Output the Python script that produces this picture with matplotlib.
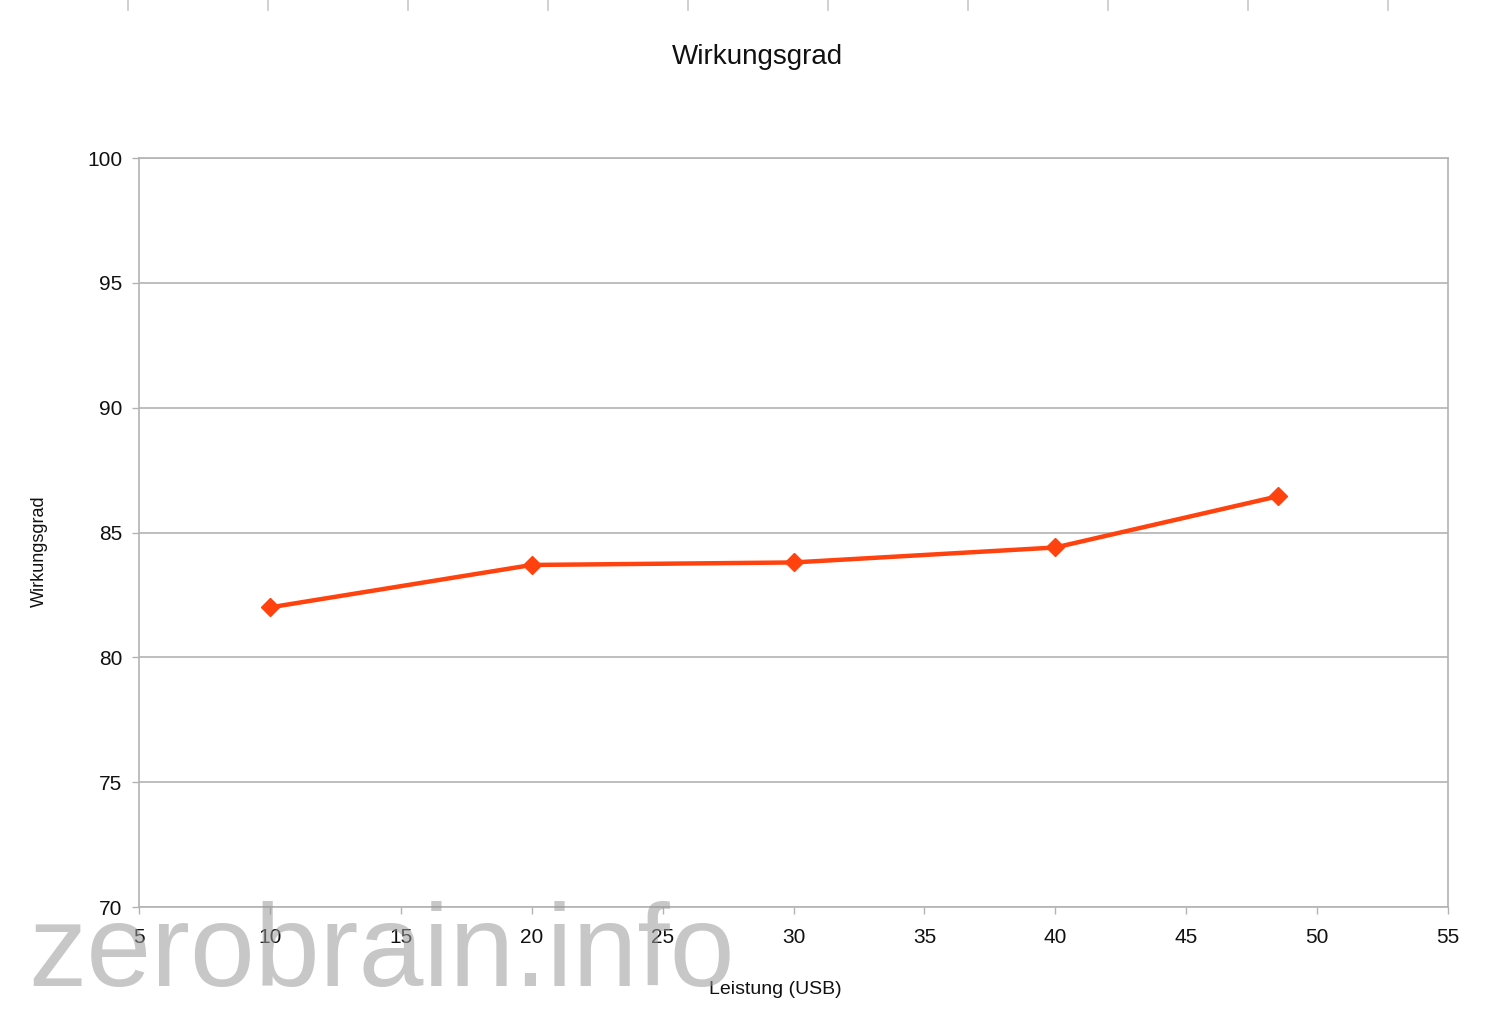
import numpy as np
import matplotlib
matplotlib.use("Agg")
import matplotlib.pyplot as plt
from matplotlib.lines import Line2D

# Messwerte
leistung = [10, 20, 30, 40, 48.5]
wirkungsgrad = [82.0, 83.7, 83.8, 84.4, 86.45]

x_ticks = list(range(5, 60, 5))
y_ticks = list(range(70, 105, 5))

TITLE = "Wirkungsgrad"
X_LABEL = "Leistung (USB)"
Y_LABEL = "Wirkungsgrad"
WATERMARK = "zerobrain.info"

LINE_COLOR = "#ff420e"
GRID_COLOR = "#b3b3b3"

plt.rcParams["font.family"] = ["Liberation Sans", "DejaVu Sans"]

fig = plt.figure(figsize=(15, 10.17), dpi=100)
ax = fig.add_axes([139 / 1500, 1 - 907 / 1017, (1448 - 139) / 1500, (907 - 158) / 1017])

ax.plot(leistung, wirkungsgrad, color=LINE_COLOR, linewidth=3.2,
        marker="D", markersize=9.5, markeredgecolor=LINE_COLOR, zorder=3,
        solid_joinstyle="round")

ax.set_xlim(5, 55)
ax.set_ylim(70, 100)
ax.set_xticks(x_ticks)
ax.set_yticks(y_ticks)
ax.tick_params(axis="both", direction="out", length=5, width=1,
               color=GRID_COLOR, labelsize=15, labelcolor="#111111")
ax.tick_params(axis="x", pad=10)
ax.tick_params(axis="y", pad=7)
ax.yaxis.grid(True, color=GRID_COLOR, linewidth=1.2)
ax.set_axisbelow(True)
for side in ax.spines.values():
    side.set_color(GRID_COLOR)
    side.set_linewidth(1.2)

ax.set_xlabel(X_LABEL, fontsize=14, color="#111111")
ax.xaxis.set_label_coords((775 - 139) / 1309, -(981 - 907) / 749)
ax.set_ylabel(Y_LABEL, fontsize=13, color="#111111")
ax.yaxis.set_label_coords(-(139 - 48) / 1309, (907 - 551) / 749)

fig.text(757 / 1500, 1 - 57 / 1017, TITLE, fontsize=20, ha="center", va="center",
         color="#111111")

# Reste einer darüberliegenden Grafik am oberen Rand
for xp in np.arange(128, 1500, 140):
    fig.add_artist(Line2D([xp / 1500, xp / 1500], [1.0, 1 - 10 / 1017],
                          color="#c8c8c8", linewidth=1.2))

# Wasserzeichen
fig.text(28 / 1500, 1 - 986 / 1017, WATERMARK, fontsize=84, color="#9a9a9a",
         alpha=0.55, ha="left", va="baseline", zorder=10)

fig.savefig("out.png", dpi=100, facecolor="white")
